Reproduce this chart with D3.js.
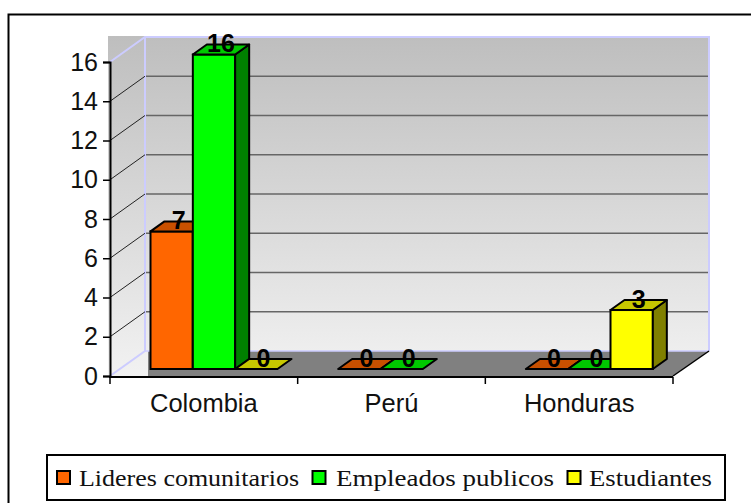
<!DOCTYPE html>
<html>
<head>
<meta charset="utf-8">
<script src="https://cdn.jsdelivr.net/npm/d3@7"></script>
<style>
  html, body { margin: 0; padding: 0; background: #fff; overflow: hidden; }
  svg { display: block; }
  .sans { font-family: "Liberation Sans", Arial, sans-serif; fill: #111; }
  .serif { font-family: "Liberation Serif", "Times New Roman", serif; fill: #111; }
</style>
</head>
<body>
<div id="chart"></div>
<script>
  const countries = ["Colombia", "Perú", "Honduras"];
  const seriesNames = ["Lideres comunitarios", "Empleados publicos", "Estudiantes"];
  // null = no label and no bar in the original (Perú / Estudiantes)
  const lideres = [7, 0, 0];
  const empleados = [16, 0, 0];
  const estudiantes = [0, null, 3];
  const seriesValues = [lideres, empleados, estudiantes];
  const yTicks = [0, 2, 4, 6, 8, 10, 12, 14, 16];

  const frontColors = ["#ff6600", "#00ff00", "#ffff00"];
  const topColors = ["#c85000", "#00c800", "#c8c800"];
  const sideColors = ["#803300", "#008000", "#808000"];

  const width = 751, height = 503;
  const svg = d3.select("#chart").append("svg")
    .attr("width", width).attr("height", height);

  // depth of the floor and of the bars (fake 3d)
  const wallDx = 35, wallDy = -25;
  const barDx = 14, barDy = -10;

  // SCALES
  const xAxisScale = d3.scaleBand().domain(countries).range([110, 673]);
  const seriesScale = d3.scaleBand().domain(seriesNames).range([40.5, 167.5]);
  const yAxisScale = d3.scaleLinear().domain([0, 16]).range([376, 62]);
  const yBar = d3.scaleLinear().domain([0, 16]).range([369, 54.5]);
  const yWall = v => yAxisScale(v) + wallDy;

  // outer frame, runs off the page on the right and bottom
  svg.append("rect")
    .attr("x", 8.5).attr("y", 14.5).attr("width", 780).attr("height", 520)
    .attr("fill", "none").attr("stroke", "#000").attr("stroke-width", 2);

  // WALLS
  const grad = svg.append("defs").append("linearGradient")
    .attr("id", "wallGrad").attr("x1", 0).attr("x2", 0).attr("y1", 0).attr("y2", 1);
  grad.append("stop").attr("offset", "0%").attr("stop-color", "#bebebe");
  grad.append("stop").attr("offset", "100%").attr("stop-color", "#f2f2f2");

  svg.append("rect")
    .attr("x", 108).attr("y", 36).attr("width", 601).attr("height", 341)
    .attr("fill", "url(#wallGrad)");

  // blue wall edges
  const wallEdge = "#ccccff";
  const edgeG = svg.append("g").attr("stroke", wallEdge).attr("stroke-width", 2).attr("fill", "none");
  edgeG.append("path").attr("d", `M110,${yAxisScale(16)}L145,${yWall(16)}L709,${yWall(16)}L709,351`);
  edgeG.append("path").attr("d", `M145,${yWall(16)}L145,351L110,376`);

  // white page to the right of the floor wedge
  svg.append("path")
    .attr("d", "M673,377L710,351L710,377Z").attr("fill", "#fff");

  // GRIDLINES on back and side wall
  const gridTicks = yTicks.filter(d => d > 0 && d < 16);
  svg.append("g").selectAll("line").data(gridTicks).join("line")
    .attr("x1", 146).attr("x2", 708)
    .attr("y1", d => yWall(d)).attr("y2", d => yWall(d))
    .attr("stroke", "#666").attr("stroke-width", 1.6);
  svg.append("g").selectAll("line").data(gridTicks).join("line")
    .attr("x1", 110).attr("x2", 145)
    .attr("y1", d => yAxisScale(d)).attr("y2", d => yWall(d))
    .attr("stroke", "#222").attr("stroke-width", 1);

  // FLOOR
  svg.append("path")
    .attr("d", "M148,351L709,351L673,376L148,376Z")
    .attr("fill", "#808080");
  svg.append("line")
    .attr("x1", 145).attr("x2", 709).attr("y1", 351).attr("y2", 351)
    .attr("stroke", wallEdge).attr("stroke-width", 1.5);

  // BARS
  seriesNames.forEach((name, s) => {
    const g = svg.append("g");
    countries.forEach((country, c) => {
      const v = seriesValues[s][c];
      if (v === null) return;
      const x0 = xAxisScale(country) + seriesScale(name);
      const x1 = x0 + seriesScale.bandwidth();
      const yTop = yBar(v), yBase = yBar(0);
      if (v > 0) {
        g.append("rect")
          .attr("x", x0).attr("y", yTop)
          .attr("width", x1 - x0).attr("height", yBase - yTop)
          .attr("fill", frontColors[s]).attr("stroke", "#000").attr("stroke-width", 2);
        g.append("path")
          .attr("d", `M${x1},${yTop}L${x1 + barDx},${yTop + barDy}L${x1 + barDx},${yBase + barDy}L${x1},${yBase}Z`)
          .attr("fill", sideColors[s]).attr("stroke", "#000").attr("stroke-width", 2)
          .attr("stroke-linejoin", "round");
      }
      g.append("path")
        .attr("d", `M${x0},${yTop}L${x0 + barDx},${yTop + barDy}L${x1 + barDx},${yTop + barDy}L${x1},${yTop}Z`)
        .attr("fill", topColors[s]).attr("stroke", "#000").attr("stroke-width", 2)
        .attr("stroke-linejoin", "round");
    });
  });

  // AXES
  const yAxis = d3.axisLeft(yAxisScale).tickValues(yTicks).tickSize(7).tickPadding(5);
  const yG = svg.append("g").attr("transform", "translate(110,0)").call(yAxis);
  yG.selectAll("path").attr("stroke", "#000").attr("stroke-width", 2);
  yG.selectAll("line").attr("stroke", "#000").attr("stroke-width", 1.5);
  yG.selectAll("text").attr("class", "sans").style("font-size", "25px")
    .style("font-family", '"Liberation Sans", Arial, sans-serif');

  const xBoundaries = [110, ...countries.map(d => xAxisScale(d) + xAxisScale.bandwidth())];
  const xG = svg.append("g");
  xG.append("line")
    .attr("x1", 109).attr("x2", 673).attr("y1", 377).attr("y2", 377)
    .attr("stroke", "#000").attr("stroke-width", 2);
  xG.append("line")
    .attr("x1", 673).attr("x2", 709).attr("y1", 376).attr("y2", 351)
    .attr("stroke", "#000").attr("stroke-width", 1.5);
  xG.selectAll(".tick").data(xBoundaries).join("line").attr("class", "tick")
    .attr("x1", d => d).attr("x2", d => d).attr("y1", 377).attr("y2", 384)
    .attr("stroke", "#000").attr("stroke-width", 1.5);
  xG.selectAll("text").data(countries).join("text")
    .attr("class", "sans")
    .attr("x", d => xAxisScale(d) + xAxisScale.bandwidth() / 2)
    .attr("y", 412)
    .attr("text-anchor", "middle")
    .style("font-size", "25.5px")
    .text(d => d);

  // DATA LABELS
  seriesNames.forEach((name, s) => {
    countries.forEach((country, c) => {
      const v = seriesValues[s][c];
      if (v === null) return;
      svg.append("text")
        .attr("class", "sans")
        .attr("x", xAxisScale(country) + seriesScale(name) + seriesScale.bandwidth() / 2 + 7)
        .attr("y", yBar(v) - 2.5)
        .attr("text-anchor", "middle")
        .style("font-size", "25px").style("font-weight", "bold").style("fill", "#000")
        .text(v);
    });
  });

  // LEGEND
  const legendSwatchX = [57, 312.5, 567.5];
  const legendTextX = [79, 336, 589];
  const legendTextW = [220, 218, 123];
  svg.append("rect")
    .attr("x", 47).attr("y", 455).attr("width", 678).attr("height", 45)
    .attr("fill", "#fff").attr("stroke", "#000").attr("stroke-width", 2);
  const legend = svg.append("g");
  seriesNames.forEach((name, s) => {
    legend.append("rect")
      .attr("x", legendSwatchX[s]).attr("y", 471).attr("width", 13).attr("height", 13)
      .attr("fill", frontColors[s]).attr("stroke", "#000").attr("stroke-width", 2);
    legend.append("text")
      .attr("class", "serif")
      .attr("x", legendTextX[s]).attr("y", 486)
      .attr("textLength", legendTextW[s])
      .attr("lengthAdjust", "spacingAndGlyphs")
      .style("font-size", "24px")
      .text(name);
  });
</script>
</body>
</html>
